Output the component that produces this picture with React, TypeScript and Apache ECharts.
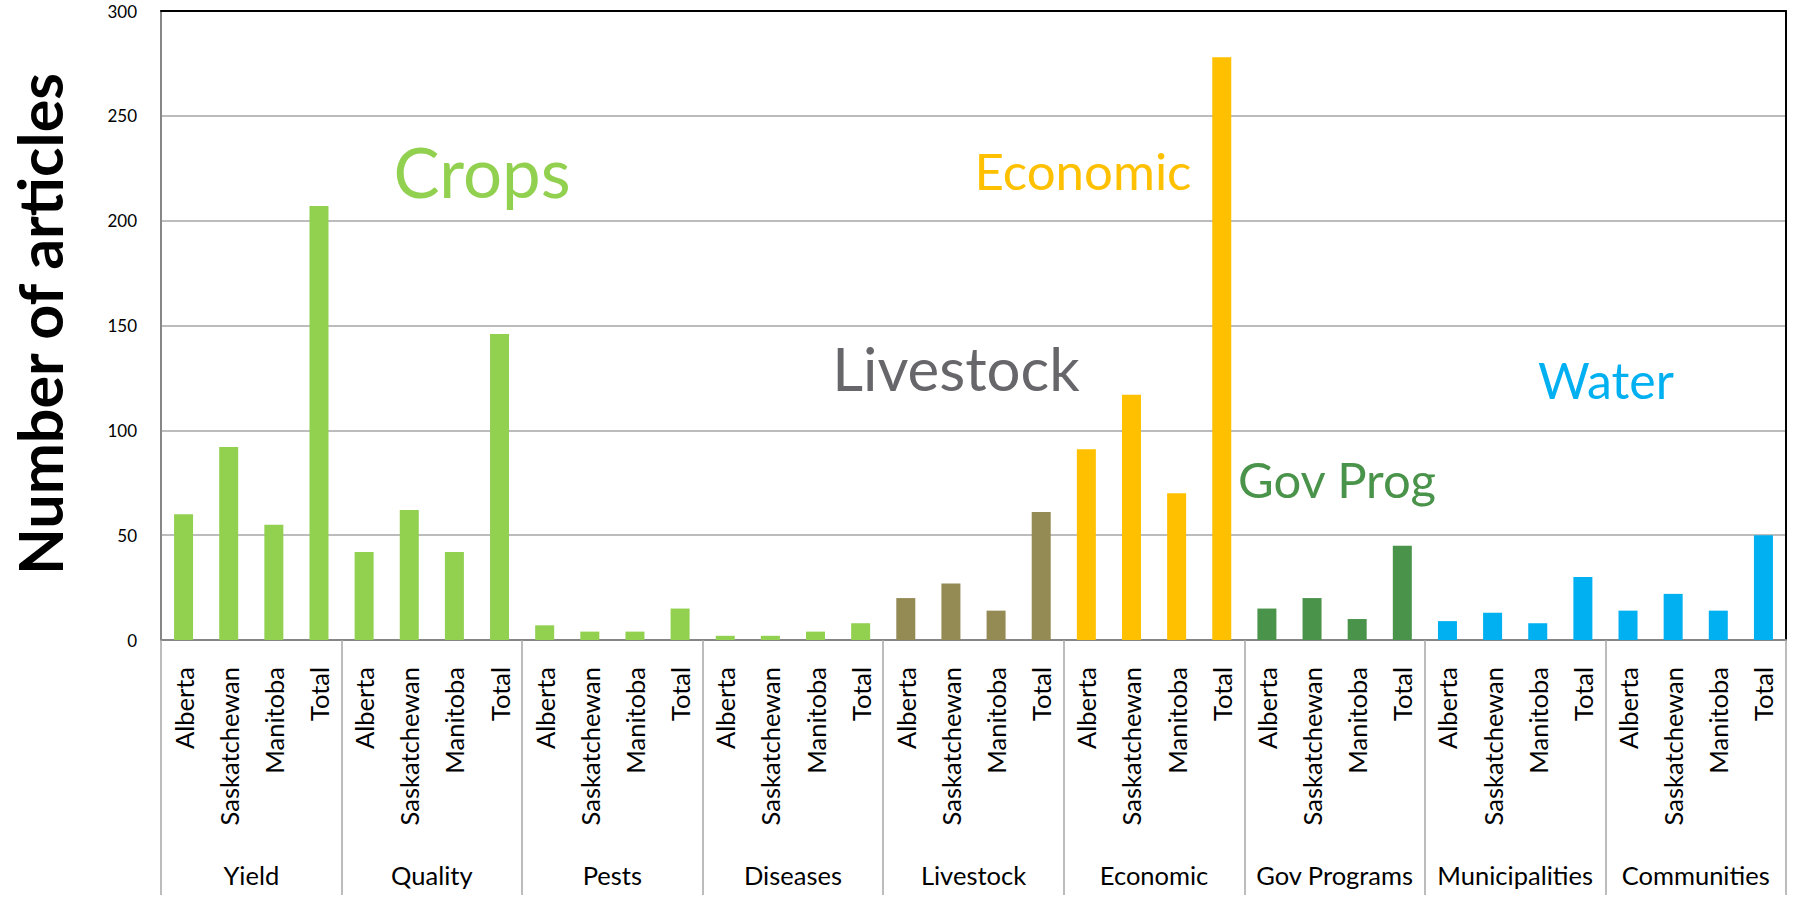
import React, { useEffect, useRef } from "react";
import * as echarts from "echarts";

const groups = ["Yield", "Quality", "Pests", "Diseases", "Livestock", "Economic", "Gov Programs", "Municipalities", "Communities"];
const provinces = ["Alberta", "Saskatchewan", "Manitoba", "Total"];

const yieldVals = [60, 92, 55, 207];
const qualityVals = [42, 62, 42, 146];
const pestsVals = [7, 4, 4, 15];
const diseasesVals = [2, 2, 4, 8];
const livestockVals = [20, 27, 14, 61];
const economicVals = [91, 117, 70, 278];
const govVals = [15, 20, 10, 45];
const municipalVals = [9, 13, 8, 30];
const communityVals = [14, 22, 14, 50];

const groupValues = [yieldVals, qualityVals, pestsVals, diseasesVals, livestockVals, economicVals, govVals, municipalVals, communityVals];
const groupColors = ["#92D050", "#92D050", "#92D050", "#92D050", "#948A54", "#FFC000", "#4A934A", "#00B0F0", "#00B0F0"];

const yTicks = { min: 0, max: 300, interval: 50 };

const annotations = [
  { text: "Crops", color: "#92D050", size: 69, x: 482, y: 171 },
  { text: "Economic", color: "#FFC000", size: 51, x: 1083, y: 170 },
  { text: "Livestock", color: "#67676B", size: 60, x: 956, y: 368 },
  { text: "Gov Prog", color: "#4A934A", size: 49, x: 1337, y: 479 },
  { text: "Water", color: "#00B0F0", size: 50, x: 1606, y: 380 },
];

const FONT = "Lato, 'Open Sans', sans-serif";

export default function App() {
  const ref = useRef<HTMLDivElement>(null);
  useEffect(() => {
    if (!ref.current) return;
    const chart = echarts.init(ref.current, null, { renderer: "svg" });
    const cats: string[] = [];
    const data: any[] = [];
    groups.forEach((g, gi) => {
      provinces.forEach((p, pi) => {
        cats.push(g + "|" + p);
        data.push({ value: groupValues[gi][pi], itemStyle: { color: groupColors[gi] } });
      });
    });
    chart.setOption({
      animation: false,
      backgroundColor: "#ffffff",
      grid: { left: 161, right: 7, top: 11, bottom: 258, containLabel: false },
      xAxis: [
        {
          type: "category",
          data: cats,
          position: "bottom",
          axisLine: { show: true, lineStyle: { color: "#868686", width: 2 } },
          axisTick: { show: false },
          axisLabel: {
            interval: 0,
            rotate: 90,
            margin: 27,
            fontSize: 25.5,
            fontFamily: FONT,
            color: "#000",
            formatter: (v: string) => v.split("|")[1],
          },
          splitLine: { show: false },
        },
        {
          type: "category",
          data: groups,
          position: "bottom",
          axisLine: { show: false },
          axisTick: { show: true, length: 255, interval: 0, lineStyle: { color: "#A6A6A6", width: 1.5 } },
          axisLabel: { interval: 0, margin: 222, fontSize: 25.5, fontFamily: FONT, color: "#000" },
          splitLine: { show: false },
        },
        {
          type: "category",
          data: groups,
          position: "top",
          axisLine: { show: true, lineStyle: { color: "#000", width: 2 } },
          axisTick: { show: false },
          axisLabel: { show: false },
          splitLine: { show: false },
        },
      ],
      yAxis: [
        {
          type: "value",
          min: yTicks.min,
          max: yTicks.max,
          interval: yTicks.interval,
          axisLine: { show: true, lineStyle: { color: "#868686", width: 2 } },
          axisTick: { show: false },
          axisLabel: { margin: 24, fontSize: 17, fontFamily: FONT, color: "#000" },
          splitLine: { show: true, lineStyle: { color: "#A6A6A6", width: 1.5 } },
        },
        {
          type: "value",
          position: "right",
          min: yTicks.min,
          max: yTicks.max,
          interval: yTicks.interval,
          axisLine: { show: true, lineStyle: { color: "#000", width: 2 } },
          axisTick: { show: false },
          axisLabel: { show: false },
          splitLine: { show: false },
        },
      ],
      series: [
        {
          type: "bar",
          xAxisIndex: 0,
          yAxisIndex: 0,
          data,
          barWidth: 19,
        },
      ],
      graphic: [
        ...annotations.map((a) => ({
          type: "text",
          x: a.x,
          y: a.y,
          style: {
            text: a.text,
            fill: a.color,
            fontSize: a.size,
            fontFamily: FONT,
            textAlign: "center",
            textVerticalAlign: "middle",
          },
        })),
        {
          type: "text",
          x: 39,
          y: 324,
          rotation: Math.PI / 2,
          style: {
            text: "Number of articles",
            fill: "#000",
            fontSize: 61,
            fontWeight: "bold",
            fontFamily: FONT,
            textAlign: "center",
            textVerticalAlign: "middle",
          },
        },
      ],
    });
    return () => chart.dispose();
  }, []);
  return <div ref={ref} style={{ position: "absolute", left: 0, top: 0, width: 1793, height: 898 }} />;
}
